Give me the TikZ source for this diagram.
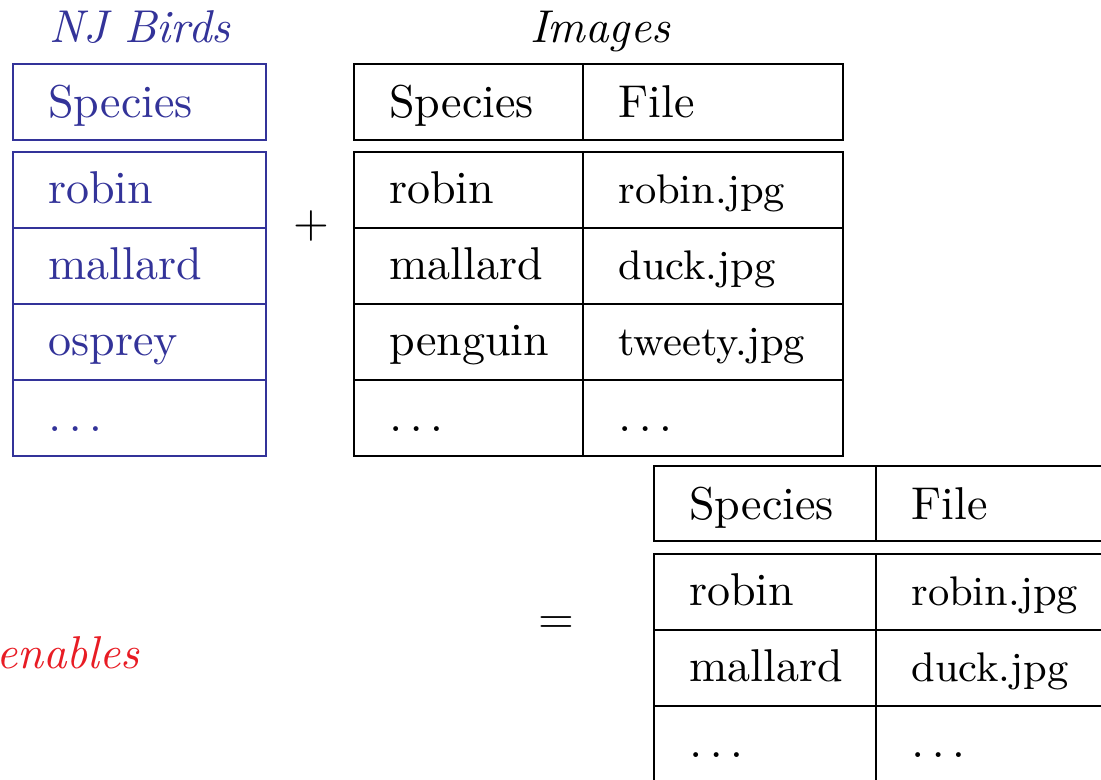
\documentclass[tikz,border=0pt]{standalone}
\usepackage{tikz}
\definecolor{njblue}{RGB}{51,51,153}
\definecolor{hotred}{RGB}{232,28,36}

\begin{document}
\begin{tikzpicture}[x=0.2174pt,y=-0.2174pt,line width=0.6pt,
    every node/.style={inner sep=0pt},
    cell/.style={anchor=base west},
    file/.style={anchor=base west,font=\small}]
  \useasboundingbox (0,0) rectangle (1101,779);
  \clip (0,0) rectangle (1101,779);
  % NJ Birds
  \node[anchor=base,text=njblue,font=\itshape] (njtitle) at (140,42) {NJ Birds};
  \draw[njblue] (13,64) rectangle (266,140);
  \draw[njblue] (13,152) rectangle (266,228) (13,228) rectangle (266,304) (13,304) rectangle (266,380) (13,380) rectangle (266,456);
  \node[cell,text=njblue] (njhead) at (47,117) {Species};
  \node[cell,text=njblue] (njrobin) at (47,203) {robin};
  \node[cell,text=njblue] (njmallard) at (47,279) {mallard};
  \node[cell,text=njblue] (njosprey) at (47,355) {osprey};
  \node[cell,text=njblue] (njdots) at (47,431) {$\ldots$};
  \node (plus) at (311,226) {$+$};
  % Images
  \node[anchor=base,font=\itshape] (imtitle) at (600,42) {Images};
  \draw (354,64) rectangle (843,140); \draw (583,64)--(583,140);
  \draw (354,152) rectangle (843,228) (354,228) rectangle (843,304) (354,304) rectangle (843,380) (354,380) rectangle (843,456);
  \draw (583,152)--(583,456);
  \node[cell] (imhead) at (388,117) {Species}; \node[cell] (imfile) at (617,117) {File};
  \node[cell] (imrobin) at (388,203) {robin}; \node[file] (imrobinjpg) at (617,203) {robin.jpg};
  \node[cell] (immallard) at (388,279) {mallard}; \node[file] (imduck) at (617,279) {duck.jpg};
  \node[cell] (impenguin) at (388,355) {penguin}; \node[file] (imtweety) at (617,355) {tweety.jpg};
  \node[cell] (imdots) at (388,431) {$\ldots$}; \node[cell] (imdotsb) at (617,431) {$\ldots$};
  % join result
  \node (equals) at (556,625) {$=$};
  \node[anchor=base east,text=hotred,font=\itshape] (enables) at (141,668) {enables};
  \draw (654,466) rectangle (1136,541); \draw (876,466)--(876,541);
  \draw (654,554) rectangle (1136,630) (654,630) rectangle (1136,706) (654,706) rectangle (1136,782);
  \draw (876,554)--(876,782);
  \node[cell] (jnhead) at (688,519) {Species}; \node[cell] (jnfile) at (910,519) {File};
  \node[cell] (jnrobin) at (688,605) {robin}; \node[file] (jnrobinjpg) at (910,605) {robin.jpg};
  \node[cell] (jnmallard) at (688,681) {mallard}; \node[file] (jnduck) at (910,681) {duck.jpg};
  \node[cell] (jndots) at (688,757) {$\ldots$}; \node[cell] (jndotsb) at (910,757) {$\ldots$};
\end{tikzpicture}
\end{document}
